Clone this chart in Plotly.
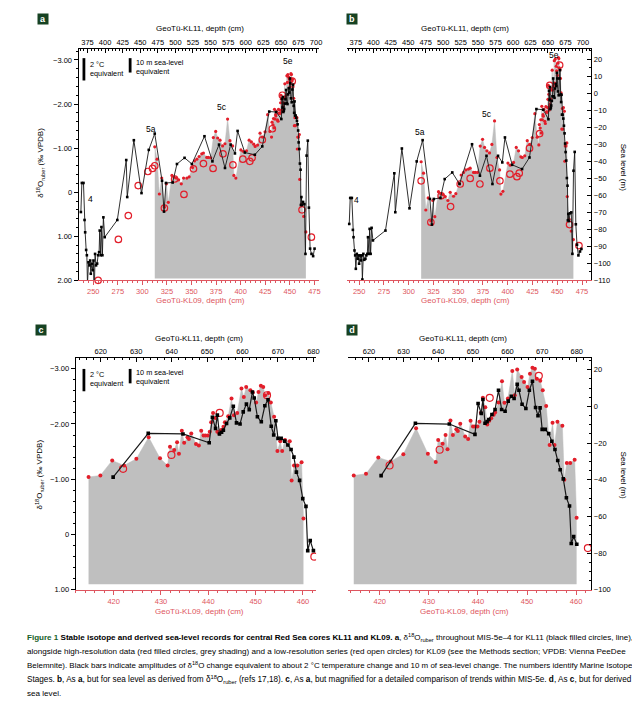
import plotly.graph_objects as go

# ---------------- data ----------------
# GeoTü-KL11 (black filled squares + line), depth on KL11 scale
kl11_depth = [365.6, 367.0, 369.3, 370.8, 371.7, 373.1, 374.1, 375.0, 376.4, 377.8,
              378.8, 379.7, 381.1, 382.5, 383.5, 384.4, 385.8, 387.2, 388.7, 390.1,
              391.5, 392.4, 393.8, 394.8, 396.2, 397.6, 399.5, 417.4, 430.1, 431.5,
              440.9, 451.8, 462.1, 470.6, 481.0, 483.8, 486.6, 496.1, 502.2, 513.0,
              523.4, 541.3, 552.6, 562.0, 570.5, 578.5, 584.6, 588.4, 598.7, 612.9,
              623.5, 633.4, 643.2, 650.6, 651.5, 652.4, 652.9, 653.5, 654.1, 654.6,
              655.5, 656.4, 657.4, 658.3, 659.3, 660.2, 661.1, 661.9, 662.8, 663.3,
              664.2, 665.3, 666.3, 667.2, 668.1, 668.8, 669.4, 670.0, 670.9, 671.9,
              672.8, 673.7, 674.5, 675.2, 676.1, 677.0, 677.9, 678.4, 679.1, 680.0,
              681.5, 683.3, 684.9, 686.5, 688.2, 689.8, 691.5, 693.5, 695.8, 697.8]
kl11_d18o = [0.45, -0.21, -0.21, 0.63, 0.91, 1.31, 1.43, 2.09, 1.59, 1.66,
             1.55, 1.85, 1.62, 1.77, 1.55, 2.49, 1.40, 1.66, 1.62, 1.43,
             1.36, 0.87, 1.43, 0.79, 1.43, 0.57, 1.02, 0.63, -0.73, 0.11,
             -1.18, 0.02, -0.96, -1.33, -0.26, 0.44, -0.21, -0.22, -0.64, -0.78,
             -0.64, -1.27, -0.70, -1.08, -0.55, -1.08, -0.88, -1.39, -0.90, -0.85,
             -1.04, -1.83, -1.82, -1.66, -2.12, -1.92, -2.16, -1.82, -1.85, -1.89,
             -2.01, -2.11, -2.32, -2.02, -2.00, -2.22, -2.36, -2.26, -2.58, -2.47,
             -2.13, -2.04, -2.33, -2.44, -1.96, -1.80, -2.06, -1.74, -1.74, -1.69,
             -1.62, -1.54, -1.40, -1.13, -0.98, -0.65, -0.51, 0.29, 0.11, 0.29,
             0.22, 0.27, 1.40, -0.83, -1.17, 0.35, 1.28, 1.40, 1.45, 1.28]
kl11_sealevel = [-76.8, -61.5, -61.5, -80.3, -84.6, -92.4, -95.3, -103.2, -94.4, -97.3,
                 -95.3, -100.2, -95.3, -98.3, -95.3, -109.5, -94.4, -97.9, -97.3, -95.3,
                 -94.4, -84.6, -94.4, -79.7, -94.4, -79.1, -86.5, -80.7, -47.0, -69.9,
                 -32.4, -67.6, -40.0, -27.5, -62.1, -77.2, -62.1, -61.5, -50.4, -46.5,
                 -53.3, -29.9, -48.4, -36.7, -53.3, -36.7, -40.6, -25.9, -42.0, -44.5,
                 -37.7, -9.2, -9.6, -15.2, 1.6, -3.8, 3.8, -9.2, -8.3, -7.1,
                 -4.4, -1.7, 8.8, -1.7, -2.6, 2.9, 5.6, 4.3, 12.1, 8.8,
                 1.2, -1.1, 8.8, 13.7, -0.6, -5.1, -0.8, -12.5, -12.5, -14.8,
                 -19.0, -23.5, -29.5, -34.5, -39.5, -49.8, -54.3, -74.7, -70.9, -75.1,
                 -70.5, -70.0, -94.4, -45.5, -34.4, -77.0, -89.0, -95.3, -93.0, -91.5]

# GeoTü-KL09 high-resolution series (red filled circles, grey shading)
kl09_depth = [312.6, 315.0, 317.3, 319.7, 322.4, 324.4, 326.4, 330.1, 332.5, 334.5,
              336.9, 339.6, 341.9, 345.3, 347.6, 351.0, 353.0, 355.4, 357.7, 360.4,
              362.1, 365.5, 367.2, 369.5, 372.2, 374.6, 376.6, 379.0, 381.6, 384.0,
              386.7, 389.1, 391.8, 393.1, 395.1, 400.2, 402.5, 405.9, 408.6, 410.9,
              413.3,
              414.7, 417.2, 419.7, 422.2, 424.8, 427.4, 429.8, 431.4, 431.9, 432.8,
              433.4, 433.8, 434.4, 434.9, 435.6, 435.9, 436.4, 437.4, 438.0, 438.5,
              439.0, 439.4, 439.9, 440.3, 440.6, 441.0, 441.5, 441.9, 442.3, 442.7,
              443.2, 443.5, 444.2, 444.9, 445.4, 446.1, 447.0, 447.5, 448.0, 448.9,
              449.4, 450.1, 450.6, 451.1, 451.6, 452.0, 452.7, 453.2, 453.9, 454.6,
              455.2, 455.6, 456.2, 457.2, 457.6, 458.1, 458.8, 459.7, 460.1, 462.0,
              464.1, 466.3]
kl09_d18o = [-1.03, -0.75, 0.04, -0.32, 0.34, -0.19, 0.23, -0.38, -0.34, -0.32,
             -0.28, -0.19, -0.32, -0.32, -0.35, -0.56, -0.71, -0.75, -0.81, -0.87,
             -0.89, -0.79, -0.79, -0.78, -1.24, -1.38, -1.23, -1.18, -1.05, -1.10,
             -1.66, -1.17, -1.05, -0.38, -0.32, -0.96, -0.93, -0.94, -1.18, -1.14,
             -1.09,
             -1.04, -1.07, -1.34, -1.25, -1.37, -1.76, -1.38, -1.25, -1.59, -1.53,
             -1.67, -1.46, -1.88, -1.66, -1.76, -1.73, -1.83, -1.64, -1.61, -1.88,
             -1.79, -1.79, -1.79, -1.86, -2.03, -2.20, -2.11, -1.86, -1.83, -1.89,
             -1.95, -2.03, -2.14, -2.46, -2.16, -2.20, -2.64, -2.49, -2.67, -2.61,
             -2.57, -2.39, -2.58, -2.69, -2.67, -2.52, -2.56, -2.39, -2.13, -1.51,
             -1.69, -1.51, -1.71, -1.69, -0.98, -1.25, -1.25, -1.31, -0.29, 0.27,
             0.55, 0.90]
kl09_sealevel = [-40.2, -46.9, -68.6, -61.5, -75.0, -63.0, -72.5, -57.8, -59.0, -59.5,
                 -60.7, -63.0, -58.2, -60.5, -59.0, -53.0, -48.0, -46.5, -45.0, -44.5,
                 -44.0, -46.5, -46.5, -46.5, -31.0, -27.0, -31.8, -33.8, -35.0, -30.0,
                 -16.2, -37.7, -45.0, -59.2, -57.6, -41.0, -42.2, -40.6, -31.8, -33.8,
                 -37.3,
                 -37.7, -36.7, -27.8, -30.0, -26.0, -11.9, -25.8, -30.3, -18.3, -20.4,
                 -15.5, -23.3, -7.6, -15.5, -12.5, -13.4, -9.4, -16.4, -17.7, -7.8,
                 -11.0, -11.0, -11.0, -8.3, -3.5, 4.7, -0.5, -9.8, -7.8, -6.5,
                 -4.5, -3.3, 2.1, 13.7, 2.0, 4.3, 19.3, 6.1, 20.2, 16.0,
                 13.3, 10.6, 17.8, 21.1, 20.5, 15.1, 14.0, 8.8, 0.3, -21.0,
                 -8.9, -21.0, -8.3, -10.5, -39.9, -30.9, -30.9, -29.1, -60.7, -74.0,
                 -81.0, -86.0]

# GeoTü-KL09 low-resolution series (red open circles)
kl09lr_depth = [255.0, 265.5, 275.6, 285.7, 295.8, 305.6, 310.3, 312.6, 322.4, 332.8,
                342.3, 352.0, 362.1, 371.9, 382.0, 392.1, 402.2, 409.3, 411.6, 422.0,
                432.2, 442.4, 452.4, 462.4, 471.9]
kl09lr_d18o = [2.00, 2.19, 1.07, 0.53, -0.15, -0.47, -0.54, -0.60, 0.36, -0.30,
               0.05, -0.53, -0.65, -0.54, -0.87, -0.62, -0.75, -0.70, -0.78, -1.19,
               -1.44, -2.20, -2.52, 0.40, 1.02]
kl09lr_sealevel = [None, None, None, None, None, None, None, -51.4, -75.8, -60.2,
                   -66.6, -53.3, -50.0, -53.3, -44.0, -51.4, -47.5, -49.0, -46.9, -32.2,
                   -23.6, 4.7, 16.7, -77.2, -89.5]

d18o_ticks_ab = [-3, -2, -1, 0, 1, 2]
d18o_ticktext_ab = ["\u22123.00", "\u22122.00", "\u22121.00", "0", "1.00", "2.00"]
d18o_ticks_cd = [-3, -2, -1, 0, 1]
d18o_ticktext_cd = ["\u22123.00", "\u22122.00", "\u22121.00", "0", "1.00"]

stage_names = ["4", "5a", "5c", "5e"]
# MIS-5e windows plotted in the magnified panels c and d
win09 = (414.0, 460.5)
win11 = (620.0, 681.0)

# ---------------- style ----------------
W, H = 640, 708
FONT = "Liberation Sans, Arial, Helvetica, sans-serif"
RED = "rgb(226,30,42)"
AXRED = "rgb(222,86,96)"
GREY = "rgb(191,191,191)"
GREEN = "rgb(22,66,34)"
TICK = 7.5
TITLE = 8


def fx(p):
    return p / W


def fy(p):
    return 1 - p / H


panels = [
    dict(key="a", kind="d", xd=(71, 313), yd=(41.7, 274.3), r09=(235.1, 479.7), r11=(362.3, 704.2),
         yr=(2.0, -3.24), base=1.96, zoom=False, d09=25, d11=25, m09=5, m11=5),
    dict(key="b", kind="s", xd=(341, 587), yd=(41.7, 274.3), r09=(237.6, 484.4), r11=(362.2, 712.0),
         yr=(-110, 25.9), base=-109.0, zoom=False, d09=25, d11=25, m09=5, m11=5),
    dict(key="c", kind="d", xd=(68, 310), yd=(352.7, 586.0), r09=(411.96, 462.76), r11=(612.9, 680.75),
         yr=(1.0, -3.19), base=0.9, zoom=True, d09=10, d11=10, m09=2, m11=2),
    dict(key="d", kind="s", xd=(342, 587), yd=(352.7, 586.0), r09=(413.5, 463.1), r11=(613.9, 684.2),
         yr=(-100, 26.3), base=-97.0, zoom=True, d09=10, d11=10, m09=2, m11=2),
]

fig = go.Figure()
layout = {}
annotations = []
shapes = []


def ann(text, x, y, size=9, color="black", xanchor="center", yanchor="middle", angle=0, **kw):
    d = dict(text=text, x=fx(x), y=fy(y), xref="paper", yref="paper", showarrow=False,
             xanchor=xanchor, yanchor=yanchor, textangle=angle,
             font=dict(family=FONT, size=size, color=color))
    d.update(kw)
    annotations.append(d)


for i, p in enumerate(panels, start=1):
    xb = "x" if i == 1 else f"x{2 * i - 1}"
    xt = f"x{2 * i}"
    yy = "y" if i == 1 else f"y{i}"
    xb_key = "xaxis" if i == 1 else f"xaxis{2 * i - 1}"
    xt_key = f"xaxis{2 * i}"
    yy_key = "yaxis" if i == 1 else f"yaxis{i}"

    v11_all = kl11_d18o if p["kind"] == "d" else kl11_sealevel
    v09_all = kl09_d18o if p["kind"] == "d" else kl09_sealevel
    vlr_all = kl09lr_d18o if p["kind"] == "d" else kl09lr_sealevel

    if p["zoom"]:
        i11 = [k for k, d in enumerate(kl11_depth) if win11[0] <= d <= win11[1]]
        i09 = [k for k, d in enumerate(kl09_depth) if win09[0] <= d <= win09[1]]
        ilr = [k for k, d in enumerate(kl09lr_depth) if p["r09"][0] <= d <= p["r09"][1]]
    else:
        i11 = list(range(len(kl11_depth)))
        i09 = list(range(len(kl09_depth)))
        ilr = list(range(len(kl09lr_depth)))
    x11 = [kl11_depth[k] for k in i11]
    y11 = [v11_all[k] for k in i11]
    x09 = [kl09_depth[k] for k in i09]
    y09 = [v09_all[k] for k in i09]
    xlr = [kl09lr_depth[k] for k in ilr]
    ylr = [vlr_all[k] for k in ilr]

    big = p["zoom"]
    clip = p["zoom"]

    # baseline for the grey shading
    fig.add_trace(go.Scatter(x=[min(x09), max(x09)], y=[p["base"], p["base"]], mode="lines",
                             line=dict(width=0, color=GREY), xaxis=xb, yaxis=yy,
                             hoverinfo="skip", showlegend=False))
    fig.add_trace(go.Scatter(x=x09, y=y09, mode="lines", line=dict(width=0.5, color=GREY),
                             fill="tonexty", fillcolor=GREY, xaxis=xb, yaxis=yy,
                             hoverinfo="skip", showlegend=False))
    # KL11 black line
    fig.add_trace(go.Scatter(x=x11, y=y11, mode="lines+markers",
                             line=dict(color="rgb(25,25,25)", width=1.2 if big else 0.9),
                             marker=dict(symbol="square", size=3.6 if big else 2.6, color="black"),
                             xaxis=xt, yaxis=yy, cliponaxis=clip, showlegend=False))
    # KL09 high-res red dots
    fig.add_trace(go.Scatter(x=x09, y=y09, mode="markers",
                             marker=dict(symbol="circle", size=4 if big else 3.2, color=RED),
                             xaxis=xb, yaxis=yy, cliponaxis=clip, showlegend=False))
    # KL09 low-res open circles
    fig.add_trace(go.Scatter(x=xlr, y=ylr, mode="markers",
                             marker=dict(symbol="circle-open", size=7 if big else 6.5, color=RED,
                                         line=dict(width=1.2, color=RED)),
                             xaxis=xb, yaxis=yy, cliponaxis=clip, showlegend=False))

    dom_x = [fx(p["xd"][0]), fx(p["xd"][1])]
    dom_y = [fy(p["yd"][1]), fy(p["yd"][0])]
    tickfont = dict(family=FONT, size=TICK, color="black")

    layout[xb_key] = dict(domain=dom_x, range=list(p["r09"]), anchor=yy, side="bottom",
                          showline=True, linecolor=AXRED, linewidth=1, mirror=False,
                          ticks="outside", ticklen=4, tickcolor=AXRED, tickwidth=1,
                          tick0=0, dtick=p["d09"],
                          minor=dict(dtick=p["m09"], ticks="outside", ticklen=2, tickcolor=AXRED),
                          tickfont=dict(family=FONT, size=TICK, color=AXRED),
                          showgrid=False, zeroline=False, fixedrange=True)
    layout[xt_key] = dict(range=list(p["r11"]), overlaying=xb, anchor=yy, side="top",
                          showline=True, linecolor="black", linewidth=1,
                          ticks="inside", ticklen=4, tickcolor="black",
                          tick0=0, dtick=p["d11"],
                          minor=dict(dtick=p["m11"], ticks="inside", ticklen=2, tickcolor="black"),
                          tickfont=tickfont, showgrid=False, zeroline=False, fixedrange=True)
    ydict = dict(domain=dom_y, range=list(p["yr"]), anchor=xb, showline=True, linecolor="black",
                 linewidth=1, showgrid=False, zeroline=False, tickfont=tickfont, fixedrange=True,
                 ticklen=4, tickcolor="black")
    if p["kind"] == "d":
        tv = d18o_ticks_cd if p["zoom"] else d18o_ticks_ab
        tt = d18o_ticktext_cd if p["zoom"] else d18o_ticktext_ab
        ydict.update(side="left", ticks="outside", tickmode="array", tickvals=tv, ticktext=tt,
                     minor=dict(dtick=0.2, tick0=0, ticks="outside", ticklen=2, tickcolor="black"))
    else:
        ydict.update(side="right", ticks="inside", dtick=20 if p["zoom"] else 10, tick0=0,
                     minor=dict(dtick=5, tick0=0, ticks="inside", ticklen=2, tickcolor="black"))
    layout[yy_key] = ydict

# ---------------- axis titles ----------------
top_title = "GeoTü-KL11, depth (cm)"
bot_title = "GeoTü-KL09, depth (cm)"
d18o_title = "δ<sup>18</sup>O<sub>ruber</sub> (‰ VPDB)"
sl_title = "Sea level (m)"
for (xt_, yt_, xb_, yb_) in [(193, 21, 194, 295), (460, 21, 460, 295),
                             (192, 333, 193, 607.5), (458, 333, 459, 607.5)]:
    ann(top_title, xt_, yt_, size=TITLE)
    ann(bot_title, xb_, yb_, size=TITLE, color=AXRED)
ann(d18o_title, 33, 156, size=TITLE, angle=-90)
ann(d18o_title, 32, 470, size=TITLE, angle=-90)
ann(sl_title, 619, 160, size=TITLE, angle=90)
ann(sl_title, 619, 470, size=TITLE, angle=90)

# ---------------- panel letters ----------------
for letter, (lx, ly) in zip(["a", "b", "c", "d"], [(35, 11.5), (346.5, 11.5), (33.5, 324), (346.5, 324)]):
    ann(f"<b>{letter}</b>", lx, ly, size=9, color="white", bgcolor=GREEN, width=10, height=10,
        borderpad=0)

# ---------------- Marine Isotope Stage labels ----------------
for name, (sx, sy) in zip(stage_names, [(83.5, 192), (144, 122), (215, 100), (282, 53)]):
    ann(name, sx, sy, size=8.5)
for name, (sx, sy) in zip(stage_names, [(351, 193), (414.5, 125), (482.5, 107), (549.5, 47)]):
    ann(name, sx, sy, size=8.5)

# ---------------- amplitude bars (2 °C and 10 m sea level) ----------------
for oy in (0, 313):
    shapes.append(dict(type="rect", xref="paper", yref="paper", x0=fx(75), x1=fx(77.8),
                       y0=fy(50.5 + oy), y1=fy(73 + oy),
                       fillcolor="black", line=dict(width=0)))
    shapes.append(dict(type="rect", xref="paper", yref="paper", x0=fx(121.5), x1=fx(124.3),
                       y0=fy(50.5 + oy), y1=fy(65 + oy), fillcolor="black", line=dict(width=0)))
    ann("2 °C<br>equivalent", 80.5, 50 + oy, size=7.3, xanchor="left", yanchor="top", align="left")
    ann("10 m sea-level<br>equivalent", 127, 48 + oy, size=7.3, xanchor="left", yanchor="top",
        align="left")

# ---------------- caption ----------------
caption = [
    "<b><span style='color:rgb(22,96,40)'>Figure 1</span> Stable isotope and derived sea-level records "
    "for central Red Sea cores KL11 and KL09.</b> <b>a</b>, δ<sup>18</sup>O<sub>ruber</sub> throughout "
    "MIS-5e–4 for KL11 (black filled circles, line),",
    "alongside high-resolution data (red filled circles, grey shading) and a low-resolution series "
    "(red open circles) for KL09 (see the Methods section; VPDB: Vienna PeeDee",
    "Belemnite). Black bars indicate amplitudes of δ<sup>18</sup>O change equivalent to about 2 °C "
    "temperature change and 10 m of sea-level change. The numbers identify Marine Isotope",
    "Stages. <b>b</b>, As <b>a</b>, but for sea level as derived from δ<sup>18</sup>O<sub>ruber</sub> "
    "(refs 17,18). <b>c</b>, As <b>a</b>, but magnified for a detailed comparison of trends within "
    "MIS-5e. <b>d</b>, As <b>c</b>, but for derived",
    "sea level.",
]
caption_sizes = [8.05, 8.1, 7.95, 8.2, 8.1]
for k, line in enumerate(caption):
    ann(line, 17, 634 + 14 * k, size=caption_sizes[k], xanchor="left")

layout.update(width=W, height=H, margin=dict(l=0, r=0, t=0, b=0), autosize=False,
              paper_bgcolor="white", plot_bgcolor="rgba(0,0,0,0)", showlegend=False,
              font=dict(family=FONT, size=9, color="black"),
              annotations=annotations, shapes=shapes)
fig.update_layout(**layout)
fig.write_html("out.html")
